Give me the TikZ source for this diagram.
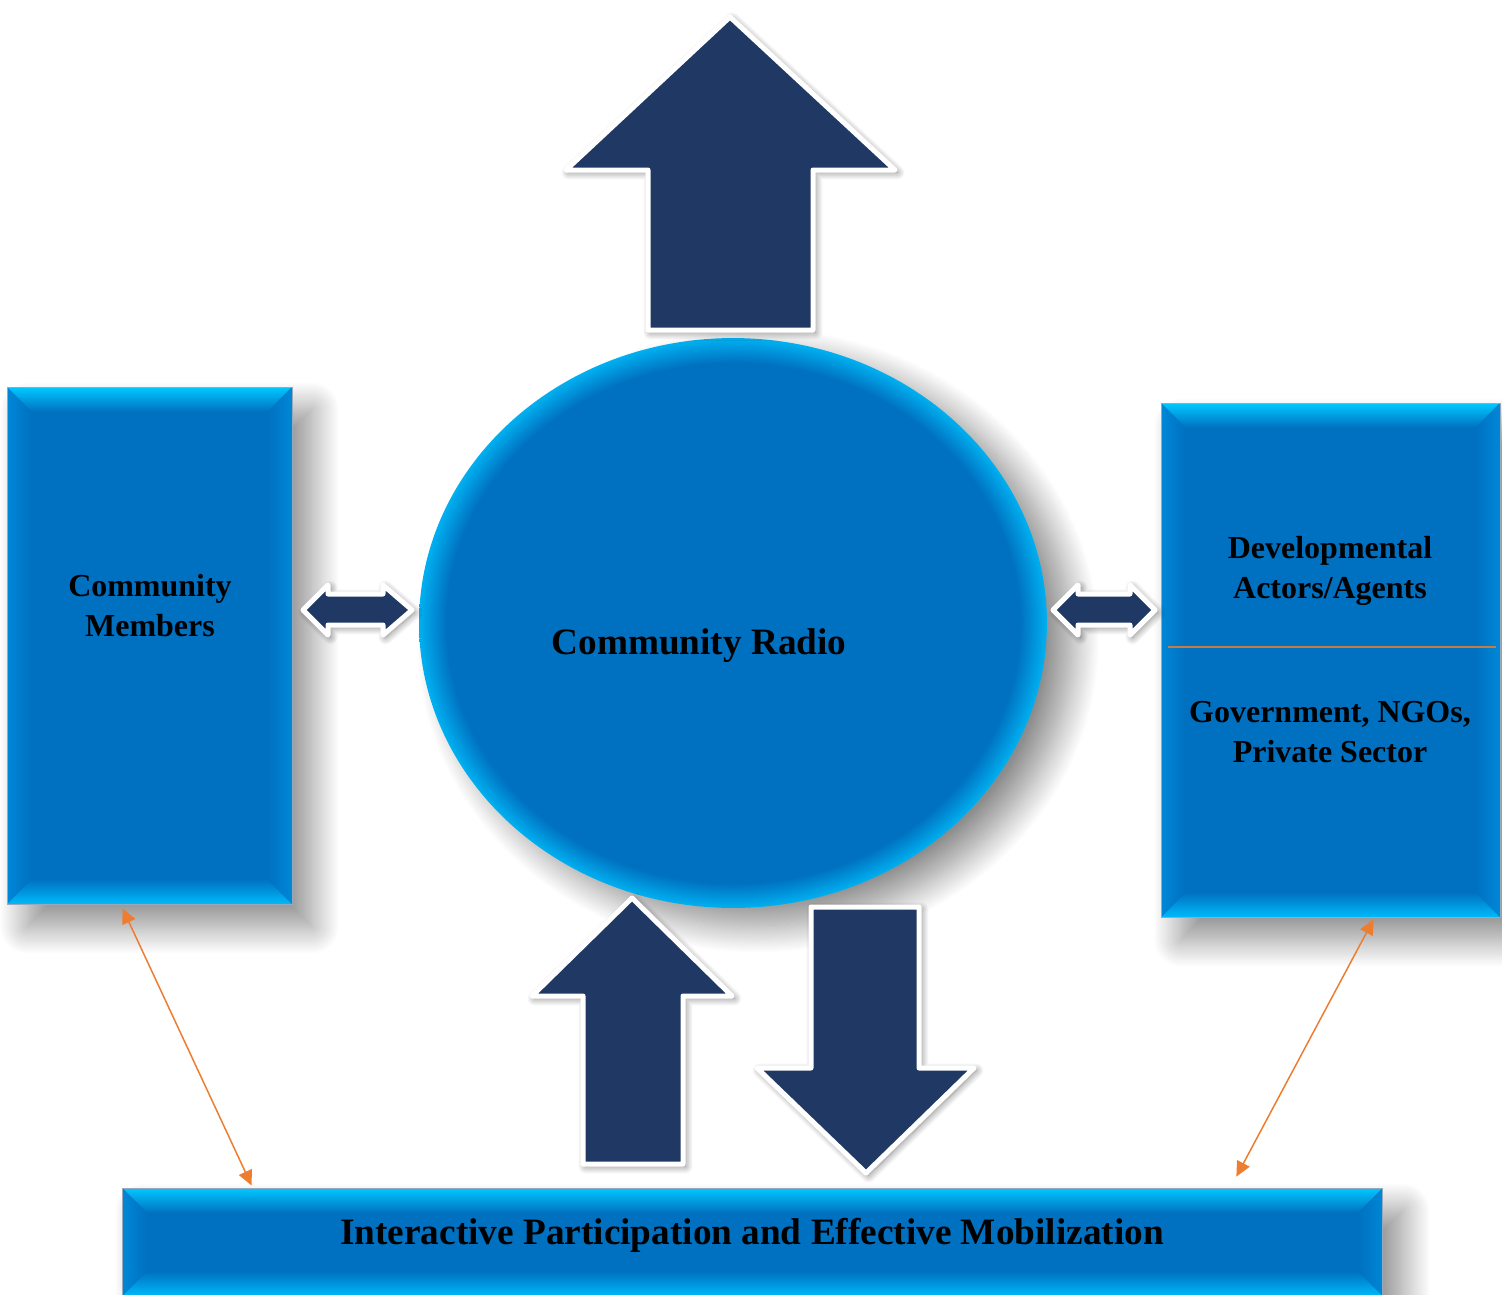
\documentclass[tikz,border=0pt]{standalone}
\usepackage{fontspec}
\setmainfont{Liberation Serif}
\usetikzlibrary{shapes.geometric, arrows.meta, shadows.blur}
\definecolor{boxblue}{RGB}{0,112,192}
\definecolor{bevtop}{RGB}{0,200,255}
\definecolor{bevbot}{RGB}{0,185,250}
\definecolor{bevside}{RGB}{0,135,215}
\definecolor{boxedge}{RGB}{150,170,190}
\definecolor{rimblue}{RGB}{0,176,240}
\definecolor{navy}{RGB}{31,56,100}
\definecolor{linkorange}{RGB}{237,125,49}
\definecolor{divbrown}{RGB}{197,125,70}

\pgfdeclareradialshading{rimglow}{\pgfpoint{0bp}{0bp}}{color(0bp)=(boxblue); color(22.8bp)=(boxblue); color(25bp)=(rimblue); color(50bp)=(rimblue)}

\tikzset{
  bevel/.style={path picture={
    \coordinate (bvnw) at (path picture bounding box.north west);
    \coordinate (bvne) at (path picture bounding box.north east);
    \coordinate (bvsw) at (path picture bounding box.south west);
    \coordinate (bvse) at (path picture bounding box.south east);
    \shade[top color=bevtop, bottom color=boxblue] (bvnw) -- (bvne) -- ([xshift=-0.5cm,yshift=-0.5cm]bvne) -- ([xshift=0.5cm,yshift=-0.5cm]bvnw) -- cycle;
    \shade[top color=boxblue, bottom color=bevbot] ([xshift=0.5cm,yshift=0.5cm]bvsw) -- ([xshift=-0.5cm,yshift=0.5cm]bvse) -- (bvse) -- (bvsw) -- cycle;
    \shade[left color=bevside, right color=boxblue] (bvnw) -- ([xshift=0.5cm,yshift=-0.5cm]bvnw) -- ([xshift=0.5cm,yshift=0.5cm]bvsw) -- (bvsw) -- cycle;
    \shade[left color=boxblue, right color=bevside] (bvne) -- (bvse) -- ([xshift=-0.5cm,yshift=0.5cm]bvse) -- ([xshift=-0.5cm,yshift=-0.5cm]bvne) -- cycle;
  }},
}

\begin{document}
\begin{tikzpicture}[x=0.02cm, y=-0.02cm]
\tikzstyle{bevelbox} = [rectangle, draw=boxedge, line width=0.5pt, fill=boxblue, inner sep=0pt, bevel,
    blur shadow={shadow xshift=0.4cm, shadow yshift=-0.45cm, shadow blur radius=0.55cm, shadow blur steps=30, shadow opacity=45}]
\tikzstyle{boxtext} = [text=black, align=center, font=\bfseries\fontsize{18.2}{22.8}\selectfont]
\tikzstyle{bigtext} = [text=black, align=center, font=\bfseries\fontsize{21.2}{25}\selectfont]
\tikzstyle{blockarrow} = [fill=navy, draw=white, line width=0.1cm, line join=round,
    blur shadow={shadow xshift=0.05cm, shadow yshift=-0.05cm, shadow blur radius=0.15cm, shadow blur steps=20, shadow opacity=50}]
\tikzstyle{link} = [draw=linkorange, line width=0.03cm, {Triangle[length=0.3cm, width=0.28cm]}-{Triangle[length=0.3cm, width=0.28cm]}]
    \useasboundingbox (0,0) rectangle (1502,1295);

    % Place nodes
    \node [bevelbox, minimum width=5.7cm, minimum height=10.34cm] (members) at (149.5,645.5) {};
    \node [bevelbox, minimum width=6.78cm, minimum height=10.28cm] (actors) at (1330.5,660) {};
    \node [bevelbox, minimum width=25.22cm, minimum height=2.16cm] (mobil) at (752.5,1242) {};
    \node [ellipse, inner sep=0pt, shade, shading=rimglow, minimum width=12.56cm, minimum height=11.4cm,
        blur shadow={shadow xshift=0.5cm, shadow yshift=-0.35cm, shadow blur radius=0.55cm, shadow blur steps=30, shadow opacity=45}] (radio) at (733,623) {};

    \node [boxtext] (memberstext) at (150,606) {Community\\Members};
    \node [boxtext] (actorstext) at (1330,571) {Developmental\\Actors/Agents};
    \node [boxtext] (sectortext) at (1330,732) {Government, NGOs,\\Private Sector};
    \node [bigtext] (radiotext) at (699,646) {Community Radio};
    \node [bigtext] (mobiltext) at (752,1235) {Interactive Participation and Effective Mobilization};

    % block arrows
    \path [blockarrow] (730,17) -- (895,170) -- (813,170) -- (813,330) -- (648,330) -- (648,170) -- (566,170) -- cycle;
    \path [blockarrow] (632,898) -- (732,996) -- (683,996) -- (683,1164) -- (583,1164) -- (583,996) -- (532,996) -- cycle;
    \path [blockarrow] (811,907) -- (919,907) -- (919,1068) -- (974,1068) -- (866,1173) -- (757,1068) -- (811,1068) -- cycle;
    \path [blockarrow] (303,610) -- (328,585) -- (328,594) -- (383,594) -- (383,585) -- (412,610) -- (383,635) -- (383,625) -- (328,625) -- (328,635) -- cycle;
    \path [blockarrow] (1053,610) -- (1078,585) -- (1078,594) -- (1130,594) -- (1130,585) -- (1155,610) -- (1130,635) -- (1130,625) -- (1078,625) -- (1078,635) -- cycle;

    %paths
    \draw [divbrown, line width=0.8pt] ([xshift=0.14cm, yshift=0.26cm]actors.west) -- ([xshift=-0.08cm, yshift=0.26cm]actors.east);
    \path [link] ([xshift=2.32cm, yshift=-0.08cm]members.south west) -- ([xshift=2.6cm, yshift=0.04cm]mobil.north west);
    \path [link] ([xshift=4.26cm, yshift=-0.04cm]actors.south west) -- ([xshift=-2.94cm, yshift=0.22cm]mobil.north east);

\end{tikzpicture}
\end{document}
